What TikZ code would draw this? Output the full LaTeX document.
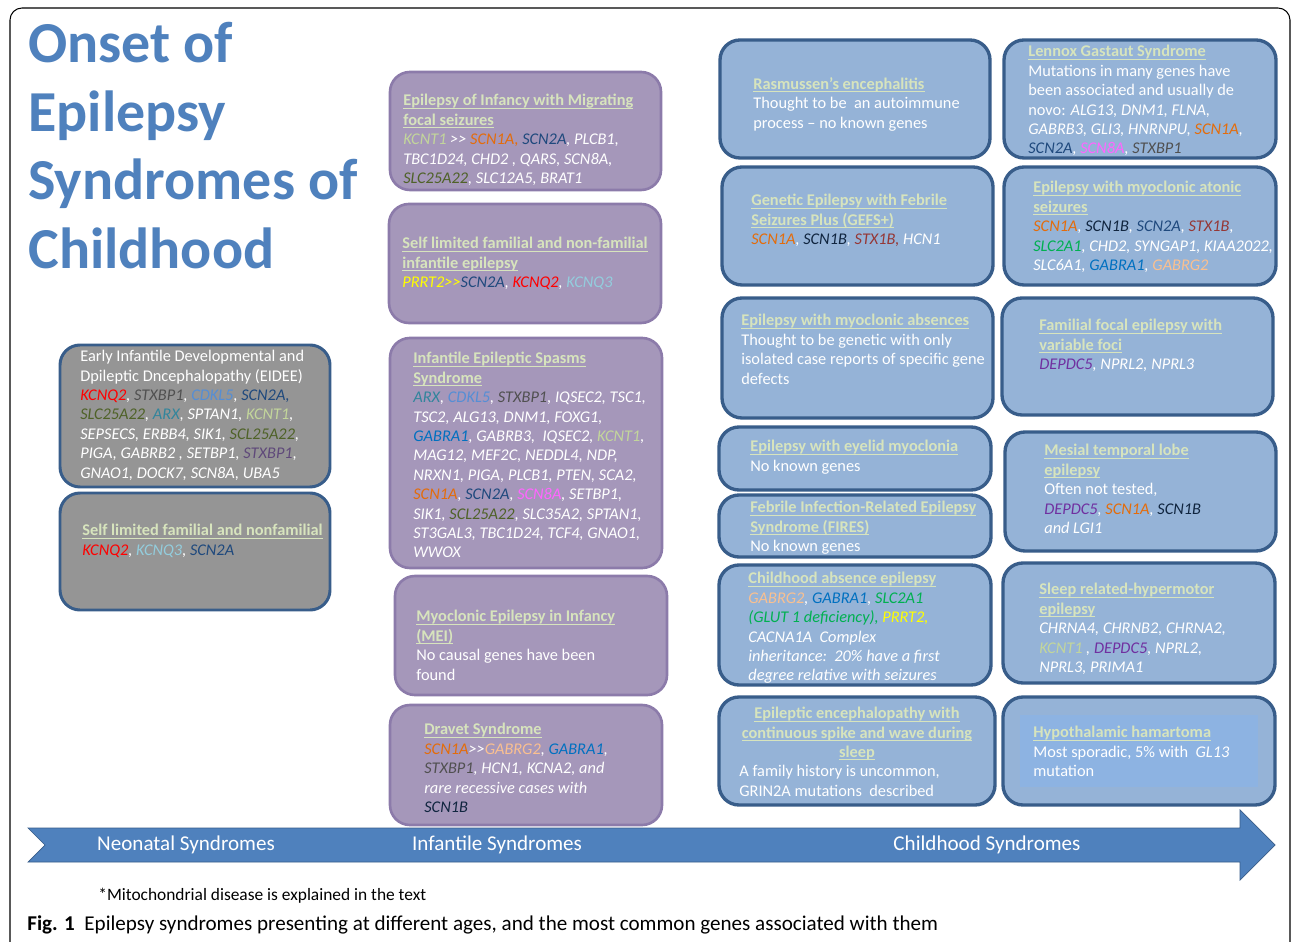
\documentclass[tikz,border=0pt]{standalone}
\usepackage{fontspec}
\setmainfont{Carlito}
\usetikzlibrary{fit}
\definecolor{titlec}{HTML}{4F81BD}
\definecolor{hdc}{HTML}{D7E4BD}
\definecolor{grayfill}{HTML}{959595}
\definecolor{purfill}{HTML}{A597BA}
\definecolor{purline}{HTML}{8C7BAA}
\definecolor{bluefill}{HTML}{95B3D7}
\definecolor{blueline}{HTML}{385D8A}
\definecolor{hhfill}{HTML}{8DB3E2}
\definecolor{arrowc}{HTML}{4F81BD}
\definecolor{kcnt}{HTML}{C3D69B}
\definecolor{scnoa}{HTML}{E46C0A}
\definecolor{scnta}{HTML}{1F497D}
\definecolor{stx}{HTML}{505050}
\definecolor{stxp}{HTML}{5F497A}
\definecolor{cdk}{HTML}{558ED5}
\definecolor{arx}{HTML}{31859C}
\definecolor{slc}{HTML}{4F6228}
\definecolor{gab}{HTML}{0070C0}
\definecolor{scne}{HTML}{FF66FF}
\definecolor{kqt}{HTML}{FF0000}
\definecolor{kqd}{HTML}{93CDDD}
\definecolor{prrt}{HTML}{FFFF00}
\definecolor{gabg}{HTML}{FAC090}
\definecolor{scnb}{HTML}{10253F}
\definecolor{stxb}{HTML}{953735}
\definecolor{slct}{HTML}{00B050}
\definecolor{dep}{HTML}{7030A0}
\newcommand{\hd}[1]{{\color{hdc}\bfseries\setbox0\hbox{#1}\rlap{\rule[-1.6pt]{\wd0}{0.6pt}}\box0}}
\newcommand{\gc}[2]{\textcolor{#1}{#2}}
\newcommand{\dgt}{>\kern0pt>}
\newcommand{\mybox}[6]{\node[#2, fit={(#3,#4) (#5,#6)}] (#1) {};}
\newcommand{\mytx}[4]{\node[txt, anchor=north west] (#1) at (#2,#3-6) {#4};}
\begin{document}
\begin{tikzpicture}[x=0.02cm,y=-0.02cm,
  boxbase/.style={inner sep=0pt, rounded corners=0.4cm},
  graybox/.style={boxbase, fill=grayfill, draw=blueline, line width=1.7pt},
  purbox/.style={boxbase, fill=purfill, draw=purline, line width=1.5pt},
  bluebox/.style={boxbase, fill=bluefill, draw=blueline, line width=1.9pt},
  txt/.style={inner sep=0pt, text=white, align=left, font=\fontsize{9.3}{11.05}\selectfont},
  band/.style={text=white, font=\fontsize{12}{14}\selectfont, inner sep=0pt}]
\useasboundingbox (0,0) rectangle (1292,942);
\fill[white] (0,0) rectangle (1292,942);
% outer frame
\draw[line width=0.6pt, rounded corners=0.24cm] (10,945) -- (10,8) -- (1290,8) -- (1290,945);
% title
\node[anchor=north west, inner sep=0pt, text=titlec, align=left,
  font=\fontsize{33}{39}\selectfont\bfseries] (title) at (28,22)
  {Onset of\\Epilepsy\\Syndromes of\\Childhood};

% ---------- neonatal (gray) ----------
\mybox{eidee}{graybox}{60}{345}{330}{487}
\mytx{eideet}{80}{356}{Early Infantile Developmental and\\
Dpileptic Dncephalopathy (EIDEE)\\
{\itshape\gc{kqt}{KCNQ2}, \gc{stx}{STXBP1}, \gc{cdk}{CDKL5}, \gc{scnta}{SCN2A,}}\\
{\itshape\gc{slc}{SLC25A22}, \gc{arx}{ARX}, SPTAN1, \gc{kcnt}{KCNT1},}\\
{\itshape SEPSECS, ERBB4, SIK1, \gc{slc}{SCL25A22},}\\
{\itshape PIGA, GABRB2 , SETBP1, \gc{stxp}{STXBP1},}\\
{\itshape GNAO1, DOCK7, SCN8A, UBA5}}
\mybox{slfn}{graybox}{60}{493}{330}{610}
\mytx{slfnt}{82}{530}{\hd{Self limited familial and nonfamilial}\\
{\itshape\gc{kqt}{KCNQ2}, \gc{kqd}{KCNQ3}, \gc{scnta}{SCN2A}}}

% ---------- infantile (purple) ----------
\mybox{eimfs}{purbox}{390}{72}{661}{190}
\mytx{eimfst}{403}{100}{\hd{Epilepsy of Infancy with Migrating}\\
\hd{focal seizures}\\
{\itshape\gc{kcnt}{KCNT1} \dgt{} \gc{scnoa}{SCN1A,} \gc{scnta}{SCN2A}, PLCB1,}\\
{\itshape TBC1D24, CHD2 , QARS, SCN8A,}\\
{\itshape\gc{slc}{SLC25A22}, SLC12A5, BRAT1}}
\mybox{slie}{purbox}{389}{204}{661}{323}
\mytx{sliet}{402}{243}{\hd{Self limited familial and non-familial}\\
\hd{infantile epilepsy}\\
{\itshape\gc{prrt}{PRRT2\dgt}\gc{scnta}{SCN2A}, \gc{kqt}{KCNQ2}, \gc{kqd}{KCNQ3}}}
\mybox{iess}{purbox}{390}{338}{662}{568}
\mytx{iesst}{413}{358}{\hd{Infantile Epileptic Spasms}\\
\hd{Syndrome}\\
{\itshape\gc{arx}{ARX}, \gc{cdk}{CDKL5}, \gc{stx}{STXBP1}, IQSEC2, TSC1,}\\
{\itshape TSC2, ALG13, DNM1, FOXG1,}\\
{\itshape\gc{gab}{GABRA1}, GABRB3,\ \ IQSEC2, \gc{kcnt}{KCNT1},}\\
{\itshape MAG12, MEF2C, NEDDL4, NDP,}\\
{\itshape NRXN1, PIGA, PLCB1, PTEN, SCA2,}\\
{\itshape\gc{scnoa}{SCN1A}, \gc{scnta}{SCN2A}, \gc{scne}{SCN8A}, SETBP1,}\\
{\itshape SIK1, \gc{slc}{SCL25A22}, SLC35A2, SPTAN1,}\\
{\itshape ST3GAL3, TBC1D24, TCF4, GNAO1,}\\
{\itshape WWOX}}
\mybox{mei}{purbox}{395}{576}{667}{695}
\mytx{meit}{416}{616}{\hd{Myoclonic Epilepsy in Infancy}\\
\hd{(MEI)}\\
No causal genes have been\\
found}
\mybox{dravet}{purbox}{390}{705}{662}{825}
\mytx{dravett}{424}{729}{\hd{Dravet Syndrome}\\
{\itshape\gc{scnoa}{SCN1A}\dgt\gc{gabg}{GABRG2}, \gc{gab}{GABRA1},}\\
{\itshape\gc{stx}{STXBP1}, HCN1, KCNA2, and}\\
{\itshape rare recessive cases with}\\
{\itshape\gc{scnb}{SCN1B}}}

% ---------- childhood column A ----------
\mybox{ras}{bluebox}{720}{40}{990}{158}
\mytx{rast}{753}{83}{\hd{Rasmussen’s encephalitis}\\
Thought to be\ \ an autoimmune\\
process -- no known genes}
\mybox{gefs}{bluebox}{722}{167}{993}{285}
\mytx{gefst}{751}{200}{\hd{Genetic Epilepsy with Febrile}\\
\hd{Seizures Plus (GEFS+)}\\
{\itshape\gc{scnoa}{SCN1A}, \gc{scnb}{SCN1B}, \gc{stxb}{STX1B,} HCN1}}
\mybox{ema}{bluebox}{722}{298}{993}{418}
\mytx{emat}{741}{320}{\hd{Epilepsy with myoclonic absences}\\
Thought to be genetic with only\\
isolated case reports of specific gene\\
defects}
\mybox{eyel}{bluebox}{719}{427}{991}{490}
\mytx{eyelt}{750}{446}{\hd{Epilepsy with eyelid myoclonia}\\
No known genes}
\mybox{fires}{bluebox}{719}{495}{991}{557}
\mytx{firest}{750}{507}{\hd{Febrile Infection-Related Epilepsy}\\
\hd{Syndrome (FIRES)}\\
No known genes}
\mybox{cae}{bluebox}{719}{565}{991}{685}
\mytx{caet}{748}{578}{\hd{Childhood absence epilepsy}\\
{\itshape\gc{gabg}{GABRG2}, \gc{gab}{GABRA1}, \gc{slct}{SLC2A1}}\\
{\itshape\gc{slct}{(GLUT 1 deficiency),} \gc{prrt}{PRRT2,}}\\
{\itshape CACNA1A\ \ Complex}\\
{\itshape inheritance:\ \ 20\% have a first}\\
{\itshape degree relative with seizures}}
\mybox{ecsws}{bluebox}{719}{697}{995}{805}
\node[txt, align=center, anchor=north] (ecswsh) at (857,707)
{\hd{Epileptic encephalopathy with}\\
\hd{continuous spike and wave during}\\
\hd{sleep}};
\mytx{ecswsb}{739}{771}{A family history is uncommon,\\
GRIN2A mutations\ \ described}

% ---------- childhood column B ----------
\mybox{lgs}{bluebox}{1004}{40}{1276}{158}
\mytx{lgst}{1028}{51}{\hd{Lennox Gastaut Syndrome}\\
Mutations in many genes have\\
been associated and usually de\\
novo: {\itshape ALG13, DNM1, FLNA,}\\
{\itshape GABRB3, GLI3, HNRNPU, \gc{scnoa}{SCN1A},}\\
{\itshape\gc{scnta}{SCN2A}, \gc{scne}{SCN8A}, \gc{stx}{STXBP1}}}
\mybox{emats}{bluebox}{1004}{167}{1276}{285}
\mytx{emated}{1033}{187}{\hd{Epilepsy with myoclonic atonic}\\
\hd{seizures}\\
{\itshape\gc{scnoa}{SCN1A}, \gc{scnb}{SCN1B}, \gc{scnta}{SCN2A}, \gc{stxb}{STX1B},}\\
{\itshape\gc{slct}{SLC2A1}, CHD2, SYNGAP1, KIAA2022,}\\
{\itshape SLC6A1, \gc{gab}{GABRA1}, \gc{gabg}{GABRG2}}}
\mybox{ffevf}{bluebox}{1002}{298}{1273}{415}
\mytx{ffevft}{1039}{325}{\hd{Familial focal epilepsy with}\\
\hd{variable foci}\\
{\itshape\gc{dep}{DEPDC5}, NPRL2, NPRL3}}
\mybox{mtle}{bluebox}{1005}{432}{1276}{551}
\mytx{mtlet}{1044}{450}{\hd{Mesial temporal lobe}\\
\hd{epilepsy}\\
Often not tested,\\
{\itshape\gc{dep}{DEPDC5}, \gc{scnoa}{SCN1A}, \gc{scnb}{SCN1B}}\\
{\itshape and LGI1}}
\mybox{she}{bluebox}{1003}{563}{1275}{683}
\mytx{shet}{1039}{589}{\hd{Sleep related-hypermotor}\\
\hd{epilepsy}\\
{\itshape CHRNA4, CHRNB2, CHRNA2,}\\
{\itshape\gc{kcnt}{KCNT1} , \gc{dep}{DEPDC5}, NPRL2,}\\
{\itshape NPRL3, PRIMA1}}
\mybox{hh}{bluebox}{1003}{697}{1275}{805}
\node[fill=hhfill, inner sep=0pt, fit={(1020,715) (1258,787)}] (hhin) {};
\mytx{hht}{1033}{732}{\hd{Hypothalamic hamartoma}\\
Most sporadic, 5\% with\ \ {\itshape GL13}\\
mutation}

% ---------- age arrow ----------
\fill[arrowc, draw=blueline, line width=0.4pt] (28,828) -- (1240,828) -- (1240,810) -- (1275,845)
  -- (1240,880) -- (1240,862) -- (28,862) -- (45,845) -- cycle;
\node[band] (neo) at (186,845) {Neonatal Syndromes};
\node[band] (inf) at (497,845) {Infantile Syndromes};
\node[band] (chi) at (987,845) {Childhood Syndromes};

% ---------- notes ----------
\node[anchor=base west, inner sep=0pt, font=\fontsize{9.9}{12}\selectfont] (foot) at (98,900)
  {*Mitochondrial disease is explained in the text};
\node[anchor=base west, inner sep=0pt, font=\fontsize{12}{14}\selectfont] (cap) at (27,930)
  {\textbf{Fig. 1}\ \ Epilepsy syndromes presenting at different ages, and the most common genes associated with them};
\end{tikzpicture}
\end{document}
